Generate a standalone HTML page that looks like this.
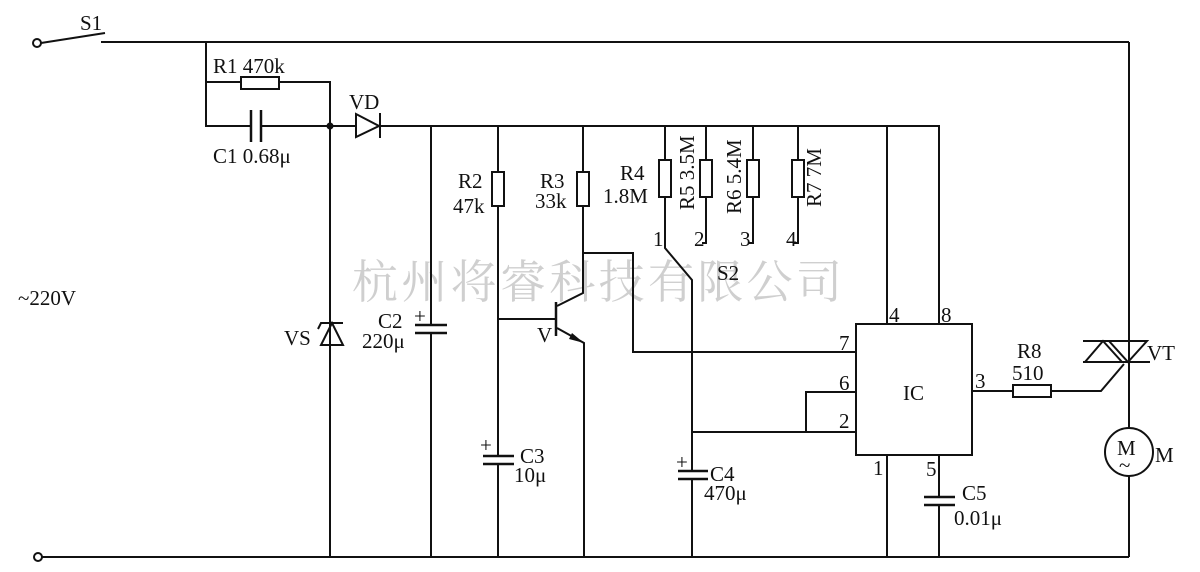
<!DOCTYPE html>
<html><head><meta charset="utf-8"><style>
html,body{margin:0;padding:0;background:#fff;}
svg{display:block;}
text{font-family:"Liberation Serif","Noto Serif CJK SC",serif;font-size:21px;fill:#111;}
.wm{font-family:"Liberation Serif","Noto Serif CJK SC",serif;font-size:46px;fill:#cfcfcf;}
</style></head><body>
<svg width="1200" height="572" viewBox="0 0 1200 572" xmlns="http://www.w3.org/2000/svg">
<text class="wm" x="352" y="298" textLength="490">杭州将睿科技有限公司</text>
<g stroke="#111" stroke-width="2" fill="none">
<circle cx="37" cy="43" r="4" fill="#fff"/>
<line x1="41" y1="43" x2="105" y2="33"/>
<line x1="101" y1="42" x2="1129" y2="42"/>
<circle cx="38" cy="557" r="4" fill="#fff"/>
<line x1="42" y1="557" x2="1129" y2="557"/>
<polyline points="206,42 206,126 251,126"/>
<line x1="206" y1="82" x2="241" y2="82"/>
<rect x="241" y="77" width="38" height="12"/>
<polyline points="279,82 330,82 330,557"/>
<line x1="251" y1="110" x2="251" y2="142" stroke-width="2.5"/>
<line x1="261" y1="110" x2="261" y2="142" stroke-width="2.5"/>
<line x1="261" y1="126" x2="356" y2="126"/>
<polygon points="356,114 356,137 379,126"/>
<line x1="380" y1="113" x2="380" y2="138"/>
<polyline points="379,126 939,126 939,324"/>
<polygon points="321,345 343,345 332,323"/>
<polyline points="318,329 321,323 343,323"/>
<line x1="431" y1="126" x2="431" y2="325"/>
<line x1="415" y1="325" x2="447" y2="325" stroke-width="2.5"/>
<line x1="415" y1="333" x2="447" y2="333" stroke-width="2.5"/>
<line x1="431" y1="333" x2="431" y2="557"/>
<line x1="498" y1="126" x2="498" y2="172"/>
<rect x="492" y="172" width="12" height="34"/>
<line x1="498" y1="206" x2="498" y2="456"/>
<line x1="498" y1="319" x2="555" y2="319"/>
<line x1="483" y1="456" x2="514" y2="456" stroke-width="2.5"/>
<line x1="483" y1="464" x2="514" y2="464" stroke-width="2.5"/>
<line x1="498" y1="464" x2="498" y2="557"/>
<line x1="583" y1="126" x2="583" y2="172"/>
<rect x="577" y="172" width="12" height="34"/>
<polyline points="583,206 583,293 557,306"/>
<line x1="556" y1="302" x2="556" y2="336" stroke-width="2.5"/>
<polyline points="557,328 584,343 584,557"/>
<polyline points="583,253 633,253 633,352 856,352"/>
<line x1="665" y1="126" x2="665" y2="160"/>
<rect x="659" y="160" width="12" height="37"/>
<polyline points="665,197 665,248 692,280 692,557"/>
<line x1="706" y1="126" x2="706" y2="160"/>
<rect x="700" y="160" width="12" height="37"/>
<polyline points="706,197 706,243 702,243"/>
<line x1="753" y1="126" x2="753" y2="160"/>
<rect x="747" y="160" width="12" height="37"/>
<polyline points="753,197 753,243 749,243"/>
<line x1="798" y1="126" x2="798" y2="160"/>
<rect x="792" y="160" width="12" height="37"/>
<polyline points="798,197 798,243 794,243"/>
<rect x="678" y="470" width="30" height="10" fill="#fff" stroke="none"/>
<line x1="678" y1="471" x2="708" y2="471" stroke-width="2.5"/>
<line x1="678" y1="479" x2="708" y2="479" stroke-width="2.5"/>
<rect x="856" y="324" width="116" height="131"/>
<line x1="887" y1="126" x2="887" y2="324"/>
<line x1="887" y1="455" x2="887" y2="557"/>
<line x1="692" y1="432" x2="856" y2="432"/>
<polyline points="806,432 806,392 856,392"/>
<line x1="939" y1="455" x2="939" y2="497"/>
<line x1="924" y1="497" x2="955" y2="497" stroke-width="2.5"/>
<line x1="924" y1="505" x2="955" y2="505" stroke-width="2.5"/>
<line x1="939" y1="505" x2="939" y2="557"/>
<line x1="972" y1="391" x2="1013" y2="391"/>
<rect x="1013" y="385" width="38" height="12"/>
<polyline points="1051,391 1101,391 1124,364"/>
<line x1="1129" y1="42" x2="1129" y2="428"/>
<line x1="1083" y1="341" x2="1146" y2="341"/>
<line x1="1083" y1="362" x2="1150" y2="362"/>
<polygon points="1085,362 1122,362 1103,341"/>
<polygon points="1109,341 1147,341 1128,362"/>
<circle cx="1129" cy="452" r="24"/>
<line x1="1129" y1="476" x2="1129" y2="557"/>
</g>
<circle cx="330" cy="126" r="3.5" fill="#111"/>
<polygon points="584,343 572,333 569,339" fill="#111"/>
<g>
<text x="80" y="30">S1</text>
<text x="213" y="73">R1 470k</text>
<text x="213" y="163">C1 0.68μ</text>
<text x="349" y="109">VD</text>
<text x="18" y="305">~220V</text>
<text x="284" y="345">VS</text>
<text x="378" y="328">C2</text>
<text x="414" y="323" font-size="18">+</text>
<text x="362" y="348">220μ</text>
<text x="458" y="188">R2</text>
<text x="453" y="213">47k</text>
<text x="540" y="188">R3</text>
<text x="535" y="208">33k</text>
<text x="537" y="342">V</text>
<text x="480" y="452" font-size="18">+</text>
<text x="520" y="463">C3</text>
<text x="514" y="482">10μ</text>
<text x="620" y="180">R4</text>
<text x="603" y="203">1.8M</text>
<text transform="translate(694,210) rotate(-90)">R5 3.5M</text>
<text transform="translate(741,214) rotate(-90)">R6 5.4M</text>
<text transform="translate(821,207) rotate(-90)">R7 7M</text>
<text x="653" y="246">1</text>
<text x="694" y="246">2</text>
<text x="740" y="246">3</text>
<text x="786" y="246">4</text>
<text x="717" y="280">S2</text>
<text x="676" y="469" font-size="18">+</text>
<text x="710" y="481">C4</text>
<text x="704" y="500">470μ</text>
<text x="889" y="322">4</text>
<text x="941" y="322">8</text>
<text x="839" y="350">7</text>
<text x="839" y="390">6</text>
<text x="839" y="428">2</text>
<text x="903" y="400">IC</text>
<text x="975" y="388">3</text>
<text x="873" y="475">1</text>
<text x="926" y="476">5</text>
<text x="962" y="500">C5</text>
<text x="954" y="525">0.01μ</text>
<text x="1017" y="358">R8</text>
<text x="1012" y="380">510</text>
<text x="1147" y="360">VT</text>
<text x="1117" y="455" font-size="19">M</text>
<text x="1119" y="472" font-size="17">~</text>
<text x="1155" y="462">M</text>
</g>
</svg>
</body></html>
